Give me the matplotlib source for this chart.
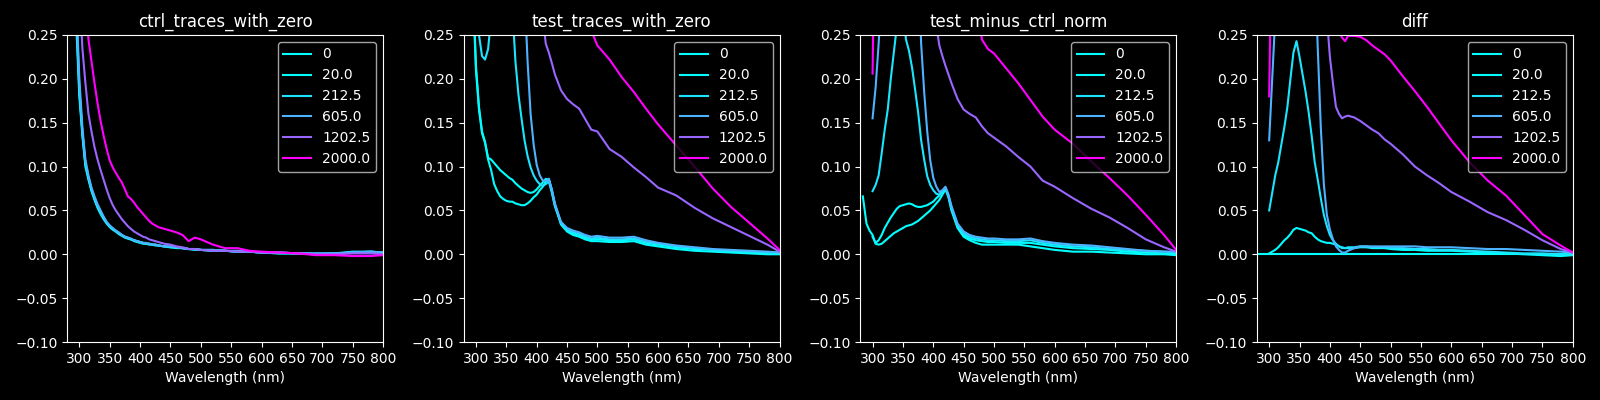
import numpy as np
import matplotlib
matplotlib.use("Agg")
import matplotlib.pyplot as plt

nan = np.nan

# wavelength grid (nm) shared by all traces
wavelength = [284, 290, 295, 300, 305, 310, 315, 320, 325, 330,
              335, 340, 345, 350, 355, 360, 365, 370, 375, 380,
              385, 390, 395, 400, 405, 410, 415, 420, 425, 430,
              440, 450, 460, 470, 480, 490, 500,
              520, 540, 560, 580, 600,
              630, 660, 690, 720, 750, 780, 800]

concentrations = [0, 20.0, 212.5, 605.0, 1202.5, 2000.0]
titles = ["ctrl_traces_with_zero", "test_traces_with_zero",
          "test_minus_ctrl_norm", "diff"]

# ---- ctrl_traces_with_zero ----
ctrl_0 = [0.60, 0.42, 0.26, 0.18, 0.135, 0.10, 0.085, 0.072, 0.062, 0.053,
          0.046, 0.040, 0.035, 0.031, 0.028, 0.026, 0.023, 0.021, 0.019, 0.018,
          0.017, 0.015, 0.014, 0.013, 0.012, 0.012, 0.011, 0.011, 0.010, 0.010,
          0.009, 0.008, 0.007, 0.007, 0.006, 0.005, 0.005,
          0.004, 0.004, 0.003, 0.003, 0.002,
          0.001, 0.001, 0.000, 0.000, 0.002, 0.002, 0.001]
ctrl_20 = [nan, 0.43, 0.27, 0.185, 0.138, 0.102, 0.087, 0.073, 0.063, 0.054,
           0.047, 0.041, 0.036, 0.032, 0.029, 0.026, 0.024, 0.022, 0.020, 0.018,
           0.017, 0.016, 0.015, 0.014, 0.013, 0.012, 0.012, 0.011, 0.011, 0.010,
           0.009, 0.008, 0.008, 0.007, 0.006, 0.006, 0.005,
           0.004, 0.004, 0.003, 0.003, 0.002,
           0.001, 0.001, 0.000, 0.001, 0.002, 0.003, 0.002]
ctrl_212 = [nan, 0.44, 0.28, 0.19, 0.14, 0.104, 0.088, 0.074, 0.064, 0.055,
            0.048, 0.042, 0.036, 0.032, 0.029, 0.027, 0.024, 0.022, 0.020, 0.019,
            0.017, 0.016, 0.015, 0.014, 0.013, 0.012, 0.012, 0.011, 0.011, 0.010,
            0.009, 0.009, 0.008, 0.007, 0.006, 0.006, 0.005,
            0.005, 0.004, 0.003, 0.003, 0.002,
            0.002, 0.001, 0.001, 0.001, 0.003, 0.003, 0.002]
ctrl_605 = [nan, 0.45, 0.29, 0.20, 0.145, 0.108, 0.09, 0.076, 0.066, 0.057,
            0.050, 0.043, 0.037, 0.033, 0.030, 0.027, 0.025, 0.022, 0.020, 0.019,
            0.018, 0.016, 0.015, 0.014, 0.013, 0.013, 0.012, 0.011, 0.011, 0.010,
            0.009, 0.009, 0.008, 0.007, 0.006, 0.006, 0.005,
            0.005, 0.004, 0.004, 0.003, 0.002,
            0.002, 0.001, 0.001, 0.001, 0.002, 0.003, 0.002]
ctrl_1202 = [nan, 0.60, 0.40, 0.30, 0.235, 0.195, 0.16, 0.14, 0.122, 0.108,
             0.096, 0.085, 0.074, 0.064, 0.056, 0.050, 0.045, 0.040, 0.036, 0.032,
             0.029, 0.026, 0.024, 0.022, 0.020, 0.019, 0.017, 0.016, 0.015, 0.014,
             0.012, 0.011, 0.009, 0.008, 0.006, 0.006, 0.005,
             0.004, 0.004, 0.003, 0.003, 0.002,
             0.002, 0.001, 0.000, 0.000, 0.001, 0.001, 0.000]
ctrl_2000 = [nan, 0.80, 0.60, 0.45, 0.36, 0.29, 0.245, 0.22, 0.195, 0.172,
             0.152, 0.135, 0.12, 0.107, 0.099, 0.093, 0.087, 0.082, 0.074, 0.066,
             0.063, 0.059, 0.054, 0.050, 0.046, 0.042, 0.038, 0.035, 0.033, 0.031,
             0.029, 0.027, 0.025, 0.022, 0.015, 0.019, 0.017,
             0.011, 0.007, 0.007, 0.004, 0.003,
             0.002, 0.001, -0.001, -0.001, -0.002, -0.002, -0.001]

# ---- test_traces_with_zero ----
test_0 = [0.60, 0.45, 0.30, 0.21, 0.165, 0.138, 0.127, 0.11, 0.108, 0.104,
          0.10, 0.096, 0.093, 0.09, 0.087, 0.085, 0.081, 0.078, 0.075, 0.073,
          0.071, 0.070, 0.071, 0.074, 0.078, 0.082, 0.086, 0.085, 0.072, 0.055,
          0.035, 0.027, 0.024, 0.022, 0.019, 0.017, 0.017,
          0.016, 0.016, 0.017, 0.013, 0.011,
          0.008, 0.006, 0.005, 0.003, 0.002, 0.001, 0.001]
test_20 = [nan, 0.46, 0.31, 0.215, 0.168, 0.14, 0.128, 0.108, 0.096, 0.08,
           0.072, 0.066, 0.063, 0.061, 0.060, 0.060, 0.058, 0.057, 0.056, 0.056,
           0.058, 0.061, 0.065, 0.068, 0.073, 0.077, 0.083, 0.086, 0.074, 0.057,
           0.034, 0.026, 0.022, 0.020, 0.017, 0.015, 0.015,
           0.014, 0.014, 0.015, 0.011, 0.009,
           0.006, 0.004, 0.003, 0.002, 0.001, 0.000, 0.000]
test_212 = [nan, 0.55, 0.40, 0.32, 0.25, 0.226, 0.222, 0.234, 0.27, 0.35,
            0.42, 0.46, 0.48, 0.46, 0.40, 0.28, 0.22, 0.182, 0.155, 0.13,
            0.112, 0.099, 0.09, 0.084, 0.08, 0.078, 0.08, 0.083, 0.07, 0.055,
            0.036, 0.028, 0.025, 0.023, 0.020, 0.018, 0.019,
            0.017, 0.017, 0.018, 0.014, 0.012,
            0.009, 0.007, 0.005, 0.004, 0.003, 0.002, 0.002]
test_605 = [nan, 0.9, 0.85, 0.8, 0.75, 0.72, 0.7, 0.68, 0.66, 0.64,
            0.62, 0.6, 0.58, 0.56, 0.54, 0.5, 0.46, 0.42, 0.36, 0.30,
            0.22, 0.16, 0.125, 0.102, 0.09, 0.084, 0.084, 0.086, 0.073, 0.058,
            0.037, 0.030, 0.027, 0.025, 0.022, 0.020, 0.021,
            0.019, 0.019, 0.020, 0.016, 0.013,
            0.010, 0.008, 0.006, 0.005, 0.004, 0.003, 0.002]
test_1202 = [nan, 1.2, 1.1, 1.0, 0.95, 0.9, 0.85, 0.8, 0.78, 0.75,
             0.72, 0.7, 0.67, 0.64, 0.6, 0.57, 0.54, 0.5, 0.46, 0.43,
             0.4, 0.37, 0.34, 0.31, 0.29, 0.27, 0.24, 0.23, 0.218, 0.205,
             0.187, 0.177, 0.171, 0.166, 0.154, 0.142, 0.14,
             0.12, 0.111, 0.099, 0.088, 0.076,
             0.067, 0.053, 0.041, 0.031, 0.021, 0.011, 0.003]
test_2000 = [nan, 1.5, 1.4, 1.3, 1.25, 1.2, 1.15, 1.1, 1.05, 1.0,
             0.97, 0.94, 0.9, 0.87, 0.84, 0.8, 0.77, 0.74, 0.71, 0.68,
             0.65, 0.62, 0.6, 0.57, 0.55, 0.52, 0.5, 0.48, 0.46, 0.44,
             0.40, 0.37, 0.34, 0.31, 0.28, 0.255, 0.238,
             0.222, 0.202, 0.185, 0.166, 0.148,
             0.124, 0.1, 0.075, 0.054, 0.036, 0.018, 0.005]

# ---- test_minus_ctrl_norm ----
norm_0 = [0.066, 0.035, 0.027, 0.022, 0.012, 0.011, 0.012, 0.015, 0.018, 0.021,
          0.024, 0.026, 0.028, 0.030, 0.032, 0.033, 0.034, 0.036, 0.038, 0.041,
          0.044, 0.047, 0.050, 0.054, 0.058, 0.062, 0.068, 0.074, 0.065, 0.050,
          0.030, 0.020, 0.016, 0.013, 0.011, 0.011, 0.011,
          0.011, 0.011, 0.009, 0.007, 0.005,
          0.003, 0.003, 0.002, 0.001, 0.000, 0.000, -0.001]
norm_20 = [nan, nan, nan, 0.020, 0.013, 0.016, 0.022, 0.030, 0.036, 0.042,
           0.047, 0.052, 0.055, 0.056, 0.057, 0.058, 0.057, 0.055, 0.054, 0.054,
           0.055, 0.056, 0.058, 0.060, 0.064, 0.067, 0.072, 0.076, 0.066, 0.051,
           0.031, 0.022, 0.018, 0.016, 0.015, 0.014, 0.014,
           0.013, 0.013, 0.013, 0.011, 0.009,
           0.007, 0.006, 0.005, 0.003, 0.002, 0.001, 0.001]
norm_212 = [nan, nan, nan, 0.072, 0.079, 0.09, 0.115, 0.142, 0.165, 0.2,
            0.23, 0.26, 0.29, 0.28, 0.245, 0.232, 0.213, 0.188, 0.162, 0.13,
            0.108, 0.089, 0.079, 0.073, 0.069, 0.068, 0.071, 0.076, 0.067, 0.053,
            0.033, 0.024, 0.020, 0.018, 0.017, 0.016, 0.016,
            0.015, 0.015, 0.016, 0.013, 0.011,
            0.009, 0.008, 0.006, 0.005, 0.004, 0.003, 0.002]
norm_605 = [nan, nan, nan, 0.155, 0.19, 0.24, 0.3, 0.36, 0.42, 0.48,
            0.52, 0.55, 0.57, 0.58, 0.57, 0.55, 0.5, 0.42, 0.33, 0.24,
            0.185, 0.14, 0.107, 0.087, 0.077, 0.071, 0.073, 0.077, 0.068, 0.055,
            0.035, 0.026, 0.022, 0.020, 0.019, 0.018, 0.018,
            0.017, 0.017, 0.018, 0.015, 0.013,
            0.011, 0.010, 0.008, 0.006, 0.004, 0.003, 0.003]
norm_1202 = [nan, nan, nan, 0.9, 0.88, 0.86, 0.84, 0.82, 0.8, 0.78,
             0.76, 0.74, 0.72, 0.7, 0.67, 0.64, 0.6, 0.56, 0.52, 0.48,
             0.44, 0.4, 0.36, 0.32, 0.26, 0.238, 0.226, 0.215, 0.205, 0.195,
             0.177, 0.165, 0.16, 0.156, 0.146, 0.138, 0.133,
             0.123, 0.111, 0.1, 0.084, 0.077,
             0.064, 0.052, 0.042, 0.03, 0.017, 0.008, 0.003]
norm_2000 = [nan, nan, nan, 0.206, 0.45, 0.6, 0.7, 0.8, 0.85, 0.9,
             0.92, 0.94, 0.95, 0.95, 0.94, 0.93, 0.91, 0.89, 0.86, 0.83,
             0.8, 0.77, 0.74, 0.71, 0.68, 0.65, 0.62, 0.59, 0.56, 0.53,
             0.47, 0.41, 0.36, 0.3, 0.245, 0.234, 0.229,
             0.212, 0.195, 0.176, 0.157, 0.142,
             0.126, 0.106, 0.087, 0.067, 0.045, 0.022, 0.005]

# ---- diff ----
diff_0 = [0.0, 0.0, 0.0, 0.0, 0.0, 0.0, 0.0, 0.0, 0.0, 0.0,
          0.0, 0.0, 0.0, 0.0, 0.0, 0.0, 0.0, 0.0, 0.0, 0.0,
          0.0, 0.0, 0.0, 0.0, 0.0, 0.0, 0.0, 0.0, 0.0, 0.0,
          0.0, 0.0, 0.0, 0.0, 0.0, 0.0, 0.0,
          0.0, 0.0, 0.0, 0.0, 0.0,
          0.0, 0.0, 0.0, 0.0, 0.0, 0.0, 0.0]
diff_20 = [nan, nan, nan, 0.001, 0.003, 0.005, 0.008, 0.012, 0.016, 0.019,
           0.023, 0.028, 0.030, 0.029, 0.028, 0.027, 0.025, 0.024, 0.020, 0.017,
           0.015, 0.014, 0.013, 0.013, 0.012, 0.011, 0.009, 0.008, 0.007, 0.007,
           0.007, 0.008, 0.008, 0.007, 0.007, 0.007, 0.006,
           0.005, 0.005, 0.004, 0.004, 0.004,
           0.003, 0.002, 0.001, 0.000, -0.001, -0.002, -0.001]
diff_212 = [nan, nan, nan, 0.050, 0.070, 0.090, 0.105, 0.125, 0.145, 0.168,
            0.20, 0.23, 0.243, 0.225, 0.205, 0.185, 0.162, 0.135, 0.105, 0.085,
            0.064, 0.045, 0.032, 0.022, 0.016, 0.012, 0.009, 0.007, 0.007, 0.008,
            0.008, 0.009, 0.009, 0.008, 0.008, 0.008, 0.007,
            0.007, 0.006, 0.006, 0.005, 0.005,
            0.004, 0.003, 0.002, 0.001, 0.001, 0.000, 0.000]
diff_605 = [nan, nan, nan, 0.13, 0.2, 0.27, 0.34, 0.42, 0.5, 0.55,
            0.6, 0.62, 0.63, 0.62, 0.6, 0.56, 0.5, 0.42, 0.33, 0.235,
            0.145, 0.08, 0.045, 0.028, 0.017, 0.009, 0.005, 0.002, 0.002, 0.004,
            0.007, 0.009, 0.009, 0.009, 0.009, 0.009, 0.009,
            0.009, 0.009, 0.008, 0.008, 0.008,
            0.007, 0.006, 0.006, 0.005, 0.004, 0.003, 0.002]
diff_1202 = [nan, nan, nan, 0.9, 0.88, 0.86, 0.84, 0.82, 0.8, 0.78,
             0.76, 0.74, 0.72, 0.7, 0.67, 0.64, 0.6, 0.55, 0.5, 0.45,
             0.39, 0.33, 0.27, 0.225, 0.195, 0.168, 0.16, 0.155, 0.157, 0.158,
             0.156, 0.152, 0.147, 0.142, 0.138, 0.131, 0.126,
             0.114, 0.1, 0.09, 0.081, 0.071,
             0.06, 0.048, 0.039, 0.028, 0.016, 0.006, 0.002]
diff_2000 = [nan, nan, nan, 0.18, 0.4, 0.55, 0.65, 0.72, 0.78, 0.82,
             0.85, 0.87, 0.88, 0.88, 0.87, 0.85, 0.82, 0.78, 0.74, 0.68,
             0.6, 0.52, 0.44, 0.37, 0.31, 0.27, 0.255, 0.247, 0.243, 0.249,
             0.249, 0.248, 0.244, 0.238, 0.233, 0.228, 0.221,
             0.203, 0.186, 0.168, 0.149, 0.13,
             0.105, 0.084, 0.067, 0.045, 0.023, 0.01, 0.002]

panels = [
    [ctrl_0, ctrl_20, ctrl_212, ctrl_605, ctrl_1202, ctrl_2000],
    [test_0, test_20, test_212, test_605, test_1202, test_2000],
    [norm_0, norm_20, norm_212, norm_605, norm_1202, norm_2000],
    [diff_0, diff_20, diff_212, diff_605, diff_1202, diff_2000],
]

plt.style.use("dark_background")
fig, axes = plt.subplots(1, 4, figsize=(16, 4), dpi=100)
cmap = plt.get_cmap("cool")

for ax, title, traces in zip(axes, titles, panels):
    for conc, trace in zip(concentrations, traces):
        ax.plot(wavelength, trace, color=cmap(conc / max(concentrations)),
                label=str(conc))
    ax.set_xlim(280, 800)
    ax.set_ylim(-0.1, 0.25)
    ax.set_xticks(np.arange(300, 801, 50))
    ax.set_title(title)
    ax.set_xlabel("Wavelength (nm)")
    ax.legend(loc="upper right")

fig.subplots_adjust(left=0.042, right=0.983, bottom=0.145, top=0.9125, wspace=0.256)
fig.savefig("out.png")
